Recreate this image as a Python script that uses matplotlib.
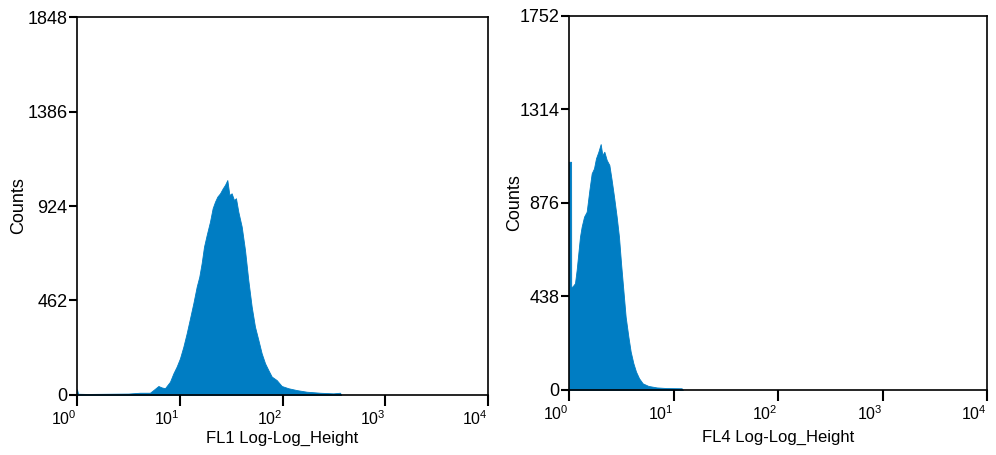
import numpy as np
import matplotlib
matplotlib.use("Agg")
import matplotlib.pyplot as plt
import matplotlib.transforms as mtransforms

plt.rcParams['font.family'] = ['Liberation Sans', 'DejaVu Sans']
plt.rcParams['mathtext.fontset'] = 'custom'
plt.rcParams['mathtext.rm'] = 'Liberation Sans'

# FL1 histogram, channel position in decades and counts
fl1_log = [0.0, 0.01, 0.1, 0.3, 0.5, 0.613, 0.710, 0.743, 0.792, 0.824, 0.856, 0.905,
           0.938, 0.970, 1.002, 1.035, 1.067, 1.100, 1.132, 1.165, 1.190, 1.213, 1.236,
           1.262, 1.294, 1.320, 1.343, 1.366, 1.392, 1.418, 1.440, 1.463, 1.483, 1.505,
           1.528, 1.547, 1.570, 1.603, 1.635, 1.667, 1.700, 1.732, 1.765, 1.797, 1.830,
           1.862, 1.895, 1.943, 1.992, 2.057, 2.138, 2.235, 2.365, 2.494, 2.560, 2.57]
fl1_counts = [28, 6, 5, 6, 7, 11, 11, 24, 44, 37, 33, 65,
              106, 139, 179, 236, 301, 375, 448, 530, 578, 644, 725,
              782, 847, 913, 945, 970, 986, 1010, 1027, 1051, 978, 986,
              953, 962, 896, 823, 709, 562, 432, 334, 269, 204, 155,
              122, 90, 73, 44, 33, 24, 16, 11, 8, 11, 0]

# FL4 histogram
fl4_log = [0.0, 0.02, 0.021, 0.032, 0.057, 0.073, 0.089, 0.105, 0.121, 0.144, 0.169,
           0.195, 0.217, 0.239, 0.258, 0.281, 0.303, 0.319, 0.338, 0.361, 0.386, 0.408,
           0.431, 0.456, 0.478, 0.498, 0.520, 0.542, 0.568, 0.590, 0.616, 0.641, 0.670,
           0.705, 0.759, 0.839, 0.935, 1.078, 1.09]
fl4_counts = [1069, 1069, 484, 484, 500, 562, 640, 718, 765, 812, 835,
              937, 1015, 1038, 1085, 1116, 1152, 1101, 1116, 1077, 1054, 984,
              905, 812, 718, 593, 468, 343, 250, 180, 125, 86, 55,
              31, 19, 12, 9, 8, 0]

fl1_yticks = [0, 462, 924, 1386, 1848]
fl4_yticks = [0, 438, 876, 1314, 1752]
xticks = [1, 10, 100, 1000, 10000]
xticklabels = [r'$\mathregular{10^{%d}}$' % i for i in range(5)]

color = '#007DC3'

fig = plt.figure(figsize=(9.96, 4.55), dpi=100)
ax1 = fig.add_axes([0.0773, 0.1319, 0.4127, 0.8307])
ax2 = fig.add_axes([0.5713, 0.1429, 0.4197, 0.8220])

panels = [
    (ax1, fl1_log, fl1_counts, fl1_yticks, 'FL1 Log-Log_Height', -0.122, -0.095),
    (ax2, fl4_log, fl4_counts, fl4_yticks, 'FL4 Log-Log_Height', -0.110, -0.107),
]

# x tick labels sit mostly left of their tick in the original
shift = mtransforms.ScaledTranslation(6 / 100, 0, fig.dpi_scale_trans)

for ax, lx, cnt, yt, xlab, ylx, xly in panels:
    x = 10 ** np.array(lx)
    ax.fill_between(x, 0, cnt, color=color, linewidth=0.6, edgecolor=color)
    ax.set_xscale('log')
    ax.set_xlim(1, 10000)
    ax.set_ylim(0, yt[-1])
    ax.set_xticks(xticks)
    ax.set_xticklabels(xticklabels, fontsize=11.5)
    ax.minorticks_off()
    for lab in ax.get_xticklabels():
        lab.set_horizontalalignment('right')
        lab.set_transform(lab.get_transform() + shift)
    ax.set_yticks(yt)
    ax.set_yticklabels([str(v) for v in yt], fontsize=13)
    ax.tick_params(axis='x', length=8, width=1.5, pad=2)
    ax.tick_params(axis='y', length=6, width=1.5, pad=1)
    for s in ax.spines.values():
        s.set_linewidth(1.2)
    ax.set_xlabel(xlab, fontsize=12)
    ax.set_ylabel('Counts', fontsize=13)
    ax.xaxis.set_label_coords(0.5, xly)
    ax.yaxis.set_label_coords(ylx, 0.5)

fig.savefig('out.png', dpi=100)
